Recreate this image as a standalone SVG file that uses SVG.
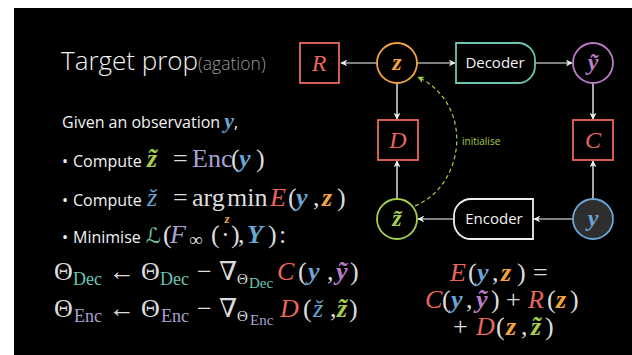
<svg xmlns="http://www.w3.org/2000/svg" width="632" height="355" viewBox="0 0 632 355">
<style>
.sans{font-family:"Open Sans","Noto Sans",sans-serif;fill:#f2f2f2}
.m{font-family:"Liberation Serif","DejaVu Serif",serif;fill:#dcdcdc;font-size:26px}
.i{font-style:italic}
.b{font-weight:bold;font-style:italic}
.red{fill:#E8675A}
.org{fill:#F4A340}
.blu{fill:#6AA6D6}
.pur{fill:#BD7CC8}
.grn{fill:#A6CF4C}
.tea{fill:#6CC4B2}
.lav{fill:#A8A2D2}
.box{fill:none;stroke-width:1.8}
.h{stroke:#A8A8A8;stroke-width:1.6;fill:none}
.v{stroke:#EEEEEE;stroke-width:1.4;fill:none}
.lbl{font-family:"Liberation Serif","DejaVu Serif",serif;font-size:24px;text-anchor:middle}
</style>
<defs>
<marker id="ah" viewBox="0 0 10 10" refX="9" refY="5" markerWidth="7" markerHeight="7" orient="auto" markerUnits="userSpaceOnUse">
<path d="M0,0 L10,5 L0,10 L3,5 Z" fill="#EEEEEE"/>
</marker>
<marker id="ahg" viewBox="0 0 10 10" refX="9" refY="5" markerWidth="7" markerHeight="7" orient="auto" markerUnits="userSpaceOnUse">
<path d="M0,0 L10,5 L0,10 L3,5 Z" fill="#A6CF4C"/>
</marker>
</defs>
<rect x="0" y="0" width="632" height="355" fill="#fff"/>
<rect x="14" y="8" width="618" height="347" fill="#000"/>

<!-- title -->
<text x="61" y="70" class="sans" font-size="26" font-weight="300">Target prop<tspan fill="#9a9a9a" font-size="17.5">(agation)</tspan></text>

<!-- left text -->
<text x="62" y="128" class="sans" font-size="16">Given an observation <tspan class="m b blu" style="font-size:22px">y</tspan>,</text>

<text x="62" y="167" class="sans" font-size="16">•</text>
<text x="73" y="167" class="sans" font-size="16">Compute</text>
<text y="167" class="m"><tspan x="147" class="b grn">z̃</tspan><tspan x="173">=</tspan><tspan x="192" class="lav">Enc</tspan><tspan x="231">(</tspan><tspan x="239" class="b blu">y</tspan><tspan x="256">)</tspan></text>

<text x="62" y="206" class="sans" font-size="16">•</text>
<text x="73" y="206" class="sans" font-size="16">Compute</text>
<text y="206" class="m"><tspan x="147" class="i blu">ž</tspan><tspan x="173">=</tspan><tspan x="192">arg</tspan><tspan x="227">min</tspan><tspan x="270" class="i red">E</tspan><tspan x="288">(</tspan><tspan x="296" class="b blu">y</tspan><tspan x="313">,</tspan><tspan x="322" class="b org">z</tspan><tspan x="337">)</tspan></text>

<text x="62" y="243" class="sans" font-size="16">•</text>
<text x="73" y="243" class="sans" font-size="16">Minimise</text>
<text y="243" class="m"><tspan x="146" class="tea" font-family="DejaVu Serif, DejaVu Sans, serif" font-size="21">ℒ</tspan><tspan x="163">(</tspan><tspan x="170" class="i lav">F</tspan><tspan x="189" y="246" font-size="19">∞</tspan><tspan x="211" y="243">(</tspan><tspan x="221">·</tspan><tspan x="231">)</tspan><tspan x="238">,</tspan><tspan x="247" class="b blu">Y</tspan><tspan x="268">)</tspan><tspan x="279">:</tspan></text>
<text x="227" y="223" class="m b org" style="font-size:13px" text-anchor="middle">z</text>

<text class="m"><tspan x="54" y="280">Θ</tspan><tspan x="73" y="285" class="tea" font-size="18">Dec</tspan><tspan x="109" y="280">←</tspan><tspan x="141" y="280">Θ</tspan><tspan x="160" y="285" class="tea" font-size="18">Dec</tspan><tspan x="197" y="280">−</tspan><tspan x="219" y="280">∇</tspan><tspan x="237" y="284" font-size="15">Θ</tspan><tspan x="249" y="288" class="tea" font-size="15">Dec</tspan><tspan x="277" y="280" class="i red">C</tspan><tspan x="298" y="280">(</tspan><tspan x="308" y="280" class="b blu">y</tspan><tspan x="327" y="280">,</tspan><tspan x="336" y="280" class="b pur">ỹ</tspan><tspan x="350" y="280">)</tspan></text>

<text class="m"><tspan x="54" y="317">Θ</tspan><tspan x="74" y="322" class="lav" font-size="18">Enc</tspan><tspan x="109" y="317">←</tspan><tspan x="141" y="317">Θ</tspan><tspan x="161" y="322" class="lav" font-size="18">Enc</tspan><tspan x="197" y="317">−</tspan><tspan x="219" y="317">∇</tspan><tspan x="237" y="321" font-size="15">Θ</tspan><tspan x="250" y="325" class="lav" font-size="15">Enc</tspan><tspan x="280" y="317" class="i red">D</tspan><tspan x="303" y="317">(</tspan><tspan x="313" y="317" class="i blu">ž</tspan><tspan x="330" y="317">,</tspan><tspan x="337" y="317" class="b grn">z̃</tspan><tspan x="349" y="317">)</tspan></text>

<!-- energy equation -->
<text y="281" class="m"><tspan x="450" class="i red">E</tspan><tspan x="468">(</tspan><tspan x="477" class="b blu">y</tspan><tspan x="492">,</tspan><tspan x="501" class="b org">z</tspan><tspan x="517">)</tspan><tspan x="533">=</tspan></text>
<text y="308" class="m"><tspan x="425" class="i red">C</tspan><tspan x="442">(</tspan><tspan x="451" class="b blu">y</tspan><tspan x="466">,</tspan><tspan x="476" class="b pur">ỹ</tspan><tspan x="491">)</tspan><tspan x="506">+</tspan><tspan x="528" class="i red">R</tspan><tspan x="547">(</tspan><tspan x="556" class="b org">z</tspan><tspan x="570">)</tspan></text>
<text y="335" class="m"><tspan x="453">+</tspan><tspan x="476" class="i red">D</tspan><tspan x="496">(</tspan><tspan x="506" class="b org">z</tspan><tspan x="521">,</tspan><tspan x="531" class="b grn">z̃</tspan><tspan x="545">)</tspan></text>

<!-- connectors -->
<g id="connectors">
<line class="h" x1="377" y1="63" x2="341" y2="63" marker-end="url(#ah)"/>
<line class="h" x1="417" y1="63" x2="455" y2="63" marker-end="url(#ah)"/>
<line class="h" x1="535" y1="63" x2="572" y2="63" marker-end="url(#ah)"/>
<line class="v" x1="397" y1="83" x2="397" y2="119" marker-end="url(#ah)"/>
<line class="v" x1="593" y1="83" x2="593" y2="119" marker-end="url(#ah)"/>
<line class="v" x1="397" y1="199" x2="397" y2="161" marker-end="url(#ah)"/>
<line class="v" x1="593" y1="199" x2="593" y2="161" marker-end="url(#ah)"/>
<line class="h" x1="573" y1="219" x2="534" y2="219" marker-end="url(#ah)"/>
<line class="h" x1="454" y1="219" x2="418" y2="219" marker-end="url(#ah)"/>
<path d="M415,206 C465,185 475,105 418,77" stroke="#A6CF4C" stroke-width="1.2" stroke-dasharray="4,3" fill="none" marker-end="url(#ahg)"/>
<text x="462" y="145" font-family="Open Sans, Noto Sans, sans-serif" font-size="10" fill="#A6CF4C">initialise</text>
</g>

<g id="node-R"><rect class="box" x="300" y="43" width="39" height="40" stroke="#E8675A"/><text x="319" y="71" class="lbl i red">R</text></g>
<g id="node-z"><circle class="box" cx="397" cy="63" r="20" stroke="#F4A340"/><text x="397" y="70" class="lbl b org">z</text></g>
<g id="node-decoder"><path class="box" d="M456,43 H518 A17,17 0 0 1 535,60 V66 A17,17 0 0 1 518,83 H456 Z" stroke="#6CC4B2"/><text x="495" y="68" class="sans" font-size="15" text-anchor="middle">Decoder</text></g>
<g id="node-ytilde"><circle class="box" cx="593" cy="63" r="20" stroke="#BD7CC8"/><text x="593" y="70" class="lbl b pur">ỹ</text></g>
<g id="node-D"><rect class="box" x="378" y="120" width="40" height="40" stroke="#E8675A"/><text x="398" y="148" class="lbl i red">D</text></g>
<g id="node-C"><rect class="box" x="573" y="120" width="40" height="40" stroke="#E8675A"/><text x="593" y="148" class="lbl i red">C</text></g>
<g id="node-ztilde"><circle class="box" cx="397" cy="219" r="20" stroke="#A6CF4C"/><text x="397" y="226" class="lbl b grn">z̃</text></g>
<g id="node-encoder"><path class="box" d="M533,199 V239 H471 A17,17 0 0 1 454,222 V216 A17,17 0 0 1 471,199 Z" stroke="#EEEEEE"/><text x="494" y="224" class="sans" font-size="15" text-anchor="middle">Encoder</text></g>
<g id="node-y"><circle cx="593" cy="219" r="20" fill="#2E2E2E" stroke="#6AA6D6" stroke-width="1.8"/><text x="593" y="226" class="lbl b blu">y</text></g>
</svg>
